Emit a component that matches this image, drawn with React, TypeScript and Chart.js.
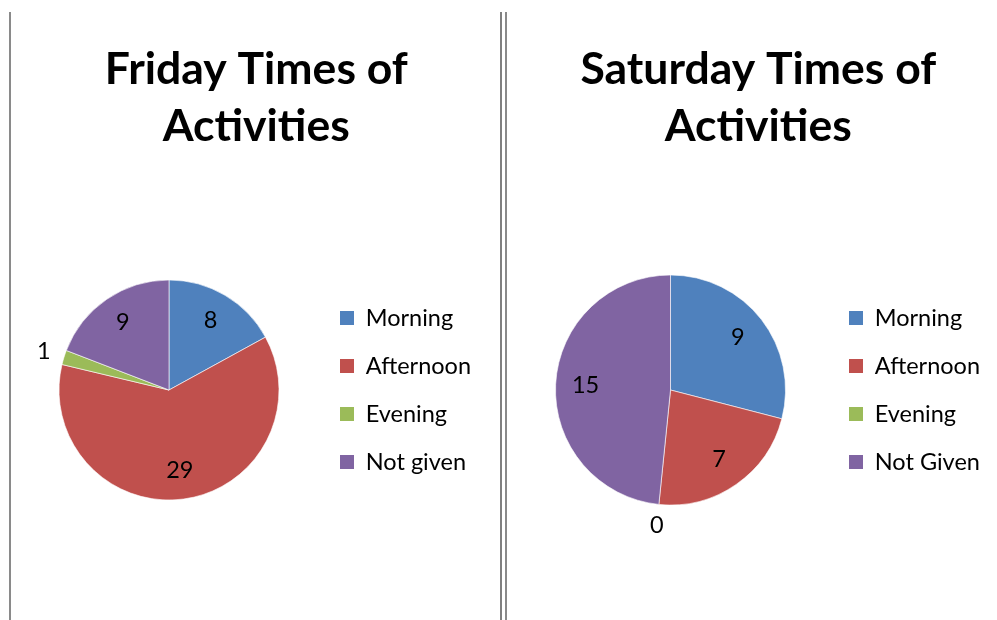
import React, { useEffect, useRef } from "react";
import { Chart, registerables } from "chart.js";

Chart.register(...registerables);

const FRIDAY_TITLE = ["Friday Times of", "Activities"];
const FRIDAY_CATEGORIES = ["Morning", "Afternoon", "Evening", "Not given"];
const FRIDAY_VALUES = [8, 29, 1, 9];

const SATURDAY_TITLE = ["Saturday Times of", "Activities"];
const SATURDAY_CATEGORIES = ["Morning", "Afternoon", "Evening", "Not Given"];
const SATURDAY_VALUES = [9, 7, 0, 15];

const COLORS = ["#4F81BD", "#C0504D", "#9BBB59", "#8064A2"];

const FONT = 'Lato, "Open Sans", sans-serif';

const valueLabels = {
  id: "valueLabels",
  afterDatasetsDraw(chart: any) {
    const ctx = chart.ctx;
    const ds = chart.data.datasets[0];
    const values: number[] = ds.data;
    const total = values.reduce((a, b) => a + b, 0);
    const meta = chart.getDatasetMeta(0);
    ctx.save();
    ctx.font = `23.5px ${FONT}`;
    ctx.fillStyle = "#000";
    ctx.textAlign = "center";
    ctx.textBaseline = "middle";
    meta.data.forEach((arc: any, i: number) => {
      const p = arc.getProps(["x", "y", "startAngle", "endAngle", "outerRadius"], true);
      const mid = (p.startAngle + p.endAngle) / 2;
      const small = values[i] / total < 0.03;
      const r = small ? p.outerRadius + 21 : p.outerRadius * 0.74;
      ctx.fillText(String(values[i]), p.x + Math.cos(mid) * r, p.y + Math.sin(mid) * r);
    });
    ctx.restore();
  },
};

type PieProps = {
  title: string[];
  categories: string[];
  values: number[];
  radius: number;
  left: number;
  width: number;
  padL: number;
  padR: number;
  legendWidth: number;
};

function PieChart(props: PieProps) {
  const ref = useRef<HTMLCanvasElement | null>(null);
  useEffect(() => {
    if (!ref.current) return;
    const legendWidth = props.legendWidth;
    const legendFix = {
      id: "legendFix",
      beforeLayout(chart: any) {
        const lg = chart.legend;
        if (lg && !lg.__patched) {
          const orig = lg.fit.bind(lg);
          lg.fit = function () {
            orig();
            this.width = legendWidth;
          };
          lg.__patched = true;
        }
      },
    };
    const chart = new Chart(ref.current, {
      type: "pie",
      data: {
        labels: props.categories,
        datasets: [
          {
            data: props.values,
            backgroundColor: COLORS,
            borderColor: "rgba(255,255,255,0.6)",
            borderWidth: 1,
            radius: props.radius,
          } as any,
        ],
      },
      options: {
        animation: false,
        responsive: false,
        layout: { padding: { left: props.padL, right: props.padR, top: 0, bottom: 16 } },
        plugins: {
          tooltip: { enabled: false },
          title: {
            display: true,
            text: props.title,
            color: "#000",
            font: { family: FONT, size: 44.5, weight: "bold", lineHeight: 57 / 44.5 },
            padding: { top: 41, bottom: 21 },
          },
          legend: {
            position: "right",
            align: "center",
            fullSize: false,
            labels: {
              boxWidth: 14,
              boxHeight: 14,
              padding: 24.5,
              color: "#000",
              font: { family: FONT, size: 23.5 },
              generateLabels: (c: any) => {
                const items = (Chart as any).overrides.doughnut.plugins.legend.labels.generateLabels(c);
                items.forEach((it: any) => {
                  it.lineWidth = 0;
                  it.strokeStyle = "rgba(0,0,0,0)";
                });
                return items;
              },
            },
          },
        },
      } as any,
      plugins: [legendFix, valueLabels],
    });
    return () => chart.destroy();
  }, []);
  return (
    <canvas
      ref={ref}
      width={props.width}
      height={620}
      style={{ position: "absolute", left: props.left, top: 0, width: props.width, height: 620, display: "block" }}
    />
  );
}

export default function App() {
  useEffect(() => {
    document.body.style.margin = "0";
  }, []);
  return (
    <div style={{ position: "absolute", left: 0, top: 0, width: 997, height: 620, overflow: "hidden", background: "#fff" }}>
      <PieChart
        title={FRIDAY_TITLE}
        categories={FRIDAY_CATEGORIES}
        values={FRIDAY_VALUES}
        radius={110}
        left={14}
        width={486}
        padL={8.5}
        padR={10}
        legendWidth={174.5}
      />
      <PieChart
        title={SATURDAY_TITLE}
        categories={SATURDAY_CATEGORIES}
        values={SATURDAY_VALUES}
        radius={115}
        left={510}
        width={495}
        padL={6.5}
        padR={5}
        legendWidth={175.5}
      />
      <div style={{ position: "absolute", left: 9, top: 12, width: 2, height: 608, background: "#8a8a8a" }} />
      <div style={{ position: "absolute", left: 500, top: 12, width: 2, height: 608, background: "#808080" }} />
      <div style={{ position: "absolute", left: 505, top: 12, width: 2, height: 608, background: "#8a8a8a" }} />
    </div>
  );
}
